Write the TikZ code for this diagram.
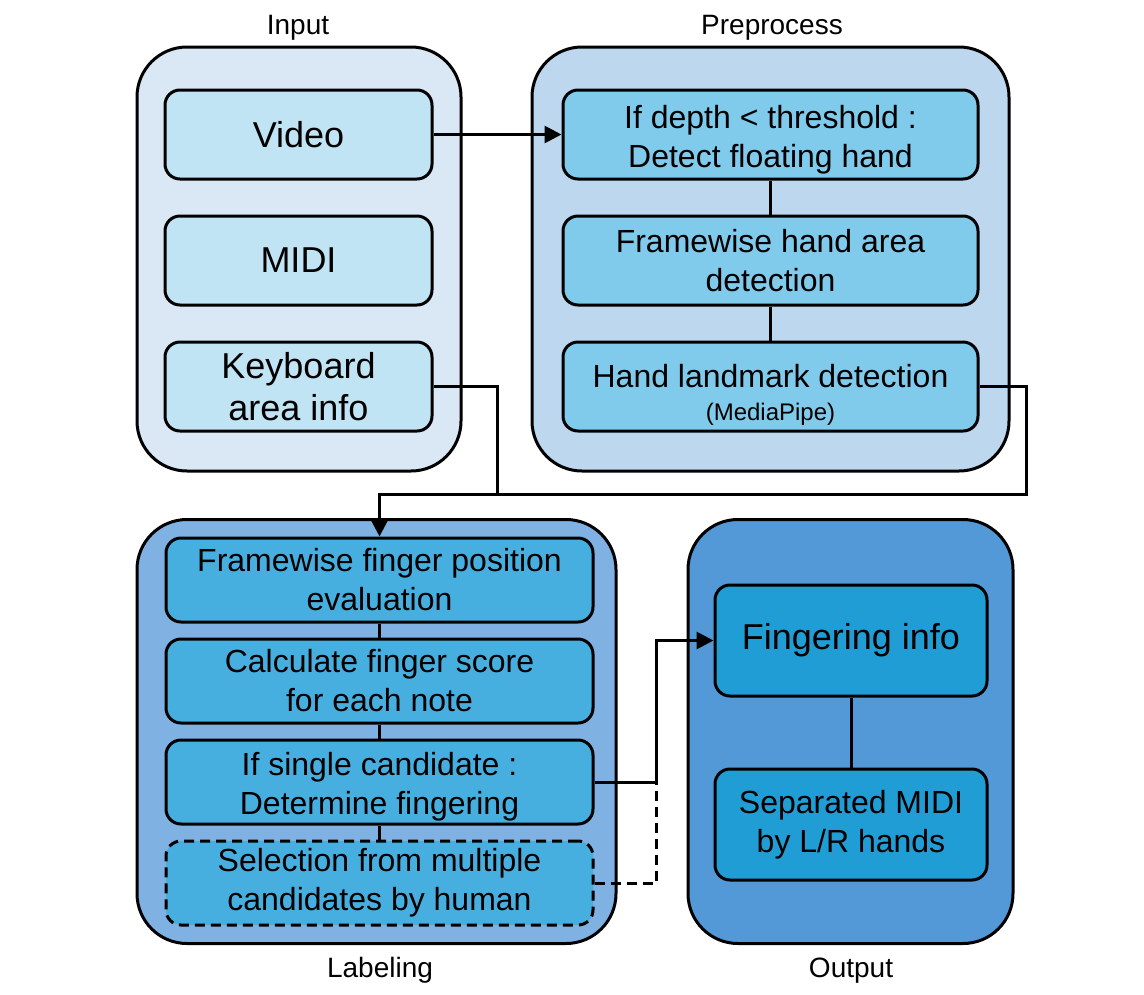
\documentclass[tikz,border=0pt]{standalone}
\usepackage{fontspec}
\setmainfont{Liberation Sans}
\usetikzlibrary{positioning,arrows.meta}

\definecolor{inouter}{HTML}{DAE8F6}
\definecolor{ininner}{HTML}{C1E4F5}
\definecolor{preouter}{HTML}{BDD7EE}
\definecolor{preinner}{HTML}{80CAEB}
\definecolor{labouter}{HTML}{7FB2E3}
\definecolor{labinner}{HTML}{47AFE0}
\definecolor{outouter}{HTML}{5399D8}
\definecolor{outinner}{HTML}{209DD4}

\def\gap{34pt}
\def\lgap{14pt}
\def\bigfont{\fontsize{36}{42}\selectfont}
\def\midfont{\fontsize{32}{39}\selectfont}
\def\smallfont{\fontsize{24}{28}\selectfont}
\def\titlefont{\fontsize{28}{32}\selectfont}
\tikzset{
  stage/.style={draw,line width=3pt,rounded corners=50pt,minimum width=#1,minimum height=424pt},
  task/.style={draw,line width=3pt,rounded corners=15pt,align=center,inner sep=0pt},
  title/.style={font=\titlefont,anchor=base},
  conn/.style={line width=3pt},
  >={Triangle[length=17pt,width=17pt]}
}

\begin{document}
\begin{tikzpicture}[x=1pt,y=-1pt]
      \useasboundingbox (0,0) rectangle (1144,994);
      % stages
      \node[stage=324pt,fill=inouter] at (299,259) (input) {};
      \node[stage=477pt,fill=preouter] at (770.5,259) (prep) {};
      \node[stage=479pt,fill=labouter] at (376.5,731.5) (label) {};
      \node[stage=325pt,fill=outouter] at (850.5,731.5) (output) {};
      \node[title] at (298,34) {Input};
      \node[title] at (772,34) {Preprocess};
      \node[title] at (380,977) {Labeling};
      \node[title] at (851,977) {Output};
      % input
      \node[task,fill=ininner,font=\bigfont,minimum width=267pt,minimum height=89pt] at (298.5,134.5) (video) {Video};
      \node[task,fill=ininner,font=\bigfont,minimum width=267pt,minimum height=89pt] (midi) [below=\gap of video] {MIDI};
      \node[task,fill=ininner,font=\bigfont,minimum width=267pt,minimum height=89pt] (kbd) [below=\gap of midi] {Keyboard\\area info};
      % preprocess
      \node[task,fill=preinner,font=\midfont,minimum width=415pt,minimum height=89pt] at (770.5,134.5) (depth) {\rule{0pt}{33pt}If depth < threshold :\\Detect floating hand};
      \node[task,fill=preinner,font=\midfont,minimum width=415pt,minimum height=89pt] (area) [below=\gap of depth] {Framewise hand area\\detection};
      \node[task,fill=preinner,font=\midfont,minimum width=415pt,minimum height=89pt] (hand) [below=\gap of area] {\rule{0pt}{40pt}Hand landmark detection\\[-6pt]{\smallfont (MediaPipe)}};
      % labeling
      \node[task,fill=labinner,font=\midfont,minimum width=427pt,minimum height=84pt] at (379.5,580) (pos) {Framewise finger position\\evaluation};
      \node[task,fill=labinner,font=\midfont,minimum width=427pt,minimum height=84pt] (score) [below=\lgap of pos] {Calculate finger score\\for each note};
      \node[task,fill=labinner,font=\midfont,minimum width=427pt,minimum height=84pt] (single) [below=\lgap of score] {\rule{0pt}{33pt}If single candidate :\\Determine fingering};
      \node[task,fill=labinner,font=\midfont,minimum width=427pt,minimum height=84pt,dash pattern=on 10pt off 6pt] (human) [below=\lgap of single] {Selection from multiple\\candidates by human};
      % output
      \node[task,fill=outinner,font=\bigfont,minimum width=272pt,minimum height=111pt] at (851,640.5) (fing) {Fingering info};
      \node[task,fill=outinner,font=\midfont,minimum width=272pt,minimum height=111pt] (sep) [below=70pt of fing] {Separated MIDI\\by L/R hands};
      % connectors
      \draw[conn] (depth) -- (area);
      \draw[conn] (area) -- (hand);
      \draw[conn] (pos) -- (score);
      \draw[conn] (score) -- (single);
      \draw[conn] (single) -- (human);
      \draw[conn] (fing) -- (sep);
      \draw[conn,->] (video.east) -- (depth.west);
      \coordinate (join) at (497,494);
      \draw[conn,->] (kbd.east) -| (join) -| (pos.north);
      \draw[conn] (hand.east) -- ++(47,0) |- (join);
      \draw[conn,->] (single.east) -- ++(62,0) coordinate (bend) |- (fing.west);
      \draw[conn,dash pattern=on 10pt off 6pt] (human.east) -| (bend);
    \end{tikzpicture}
\end{document}
